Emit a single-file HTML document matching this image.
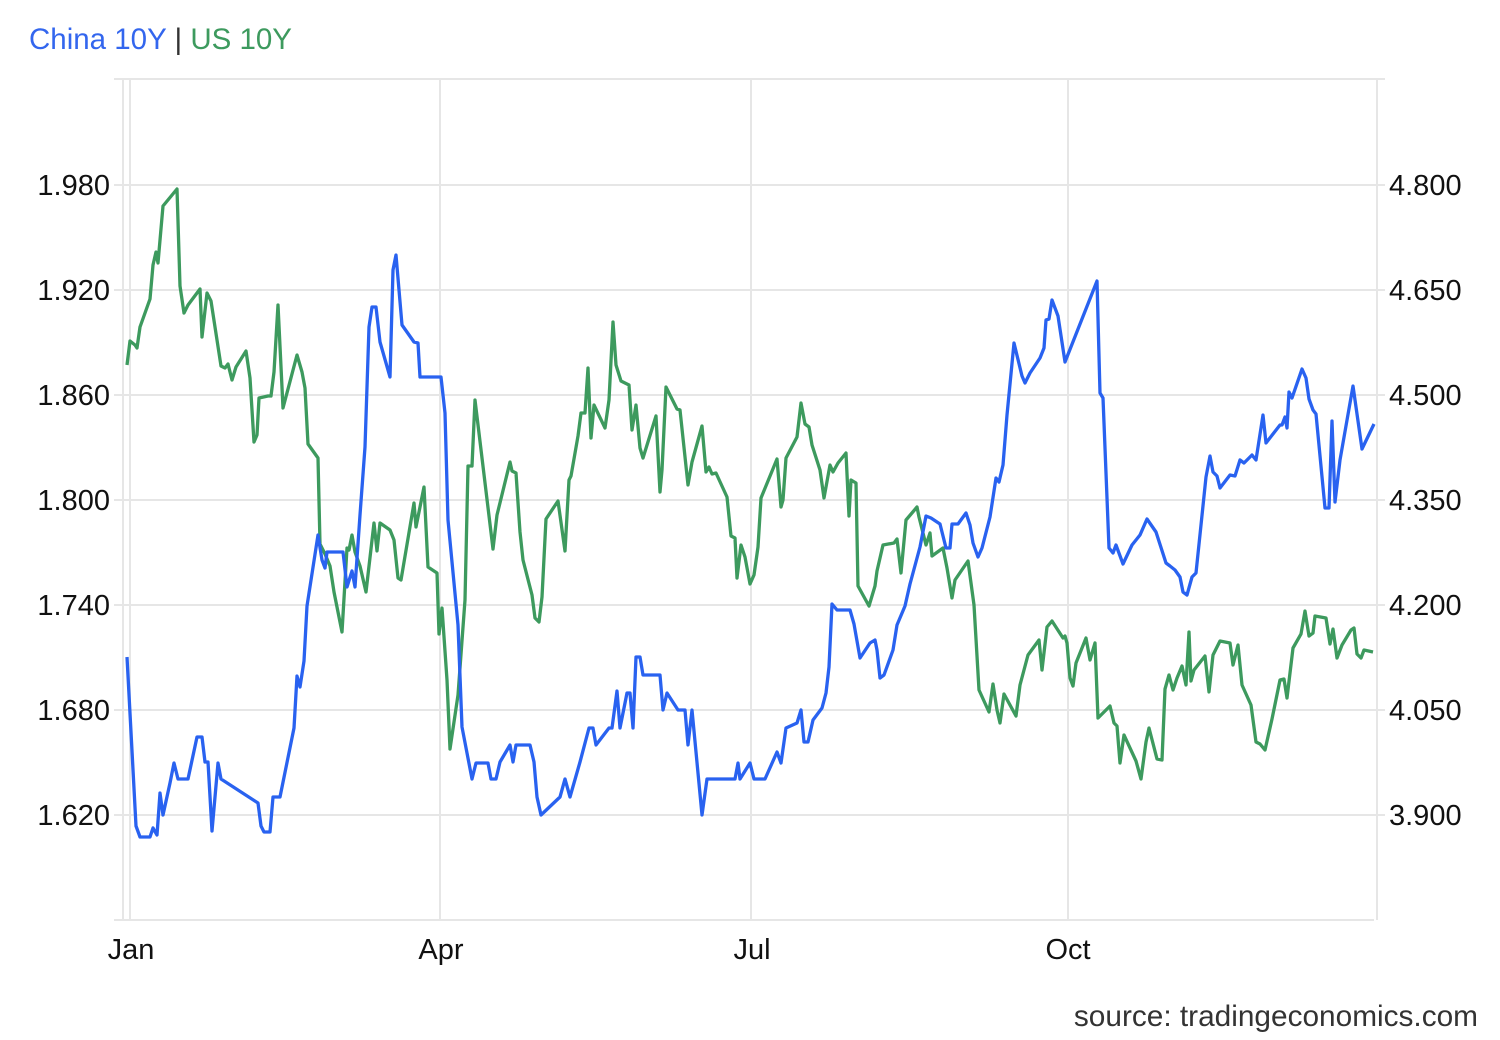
<!DOCTYPE html>
<html><head><style>html,body{margin:0;padding:0;background:#fff;}</style></head><body>
<svg width="1500" height="1040" xmlns="http://www.w3.org/2000/svg" style="display:block;font-family:'Liberation Sans',Arial,sans-serif">
<g stroke="#e6e6e6" stroke-width="2" fill="none">
<line x1="114" y1="79" x2="1385" y2="79"/>
<line x1="114" y1="185" x2="1385" y2="185"/>
<line x1="114" y1="290" x2="1385" y2="290"/>
<line x1="114" y1="395" x2="1385" y2="395"/>
<line x1="114" y1="500" x2="1385" y2="500"/>
<line x1="114" y1="605" x2="1385" y2="605"/>
<line x1="114" y1="710" x2="1385" y2="710"/>
<line x1="114" y1="815" x2="1385" y2="815"/>
<line x1="114" y1="920" x2="1374" y2="920"/>
<line x1="123" y1="79" x2="123" y2="920"/>
<line x1="130" y1="79" x2="130" y2="920"/>
<line x1="440" y1="79" x2="440" y2="920"/>
<line x1="751" y1="79" x2="751" y2="920"/>
<line x1="1068" y1="79" x2="1068" y2="920"/>
<line x1="1377" y1="79" x2="1377" y2="920"/>
</g>
<text x="29" y="49" font-size="29.5" fill="#3366ee">China 10Y <tspan fill="#333">|</tspan> <tspan fill="#3d9a5e">US 10Y</tspan></text>
<g font-size="29" fill="#111" text-anchor="end">
<text x="110" y="195">1.980</text><text x="110" y="300">1.920</text><text x="110" y="405">1.860</text><text x="110" y="510">1.800</text><text x="110" y="615">1.740</text><text x="110" y="720">1.680</text><text x="110" y="825">1.620</text>
</g>
<g font-size="29" fill="#111">
<text x="1389" y="195">4.800</text><text x="1389" y="300">4.650</text><text x="1389" y="405">4.500</text><text x="1389" y="510">4.350</text><text x="1389" y="615">4.200</text><text x="1389" y="720">4.050</text><text x="1389" y="825">3.900</text>
</g>
<g font-size="29" fill="#111" text-anchor="middle">
<text x="131" y="959">Jan</text><text x="441" y="959">Apr</text><text x="752" y="959">Jul</text><text x="1068" y="959">Oct</text>
</g>
<text x="1478" y="1026" font-size="29.8" fill="#333" text-anchor="end">source: tradingeconomics.com</text>
<polyline fill="none" stroke="#3d9a5e" stroke-width="3.3" stroke-linejoin="round" points="127,365 130,341 135,345 137,348 140,327 150,299 153,265 156,252 158,263 163,206 177,189 180,286 184,313 188,305 200,289 202,337 207,293 211,301 221,366 225,368 228,364 232,380 236,367 246,351 250,378 254,442 257,435 259,398 268,396 271,396 274,372 278,305 283,408 297,355 302,372 305,388 308,444 318,458 320,544 325,554 330,566 334,592 342,632 347,548 349,550 352,535 355,552 360,566 366,592 374,523 377,551 380,523 390,530 394,540 398,578 401,580 414,503 416,527 424,487 428,567 437,573 439,634 442,608 447,680 450,749 458,695 465,600 468,466 472,466 475,400 493,549 497,515 510,462 512,471 516,473 520,532 523,560 532,595 535,618 539,622 542,597 546,519 558,501 565,551 569,480 571,476 578,436 581,413 585,413 588,368 591,438 594,405 605,428 609,400 613,322 616,365 621,381 629,385 632,430 636,405 640,448 643,458 656,416 660,492 662,470 666,387 677,409 680,410 688,485 692,462 702,426 706,472 709,467 712,474 716,473 727,497 731,536 735,538 737,578 741,545 745,557 750,584 754,575 758,547 761,498 777,459 781,507 783,500 786,458 797,437 801,403 805,424 809,427 812,445 820,470 824,498 830,465 833,472 838,463 846,453 849,516 851,480 856,483 858,586 869,606 875,586 877,571 883,545 894,543 897,539 901,573 906,520 917,507 919,517 926,545 930,533 932,556 943,548 947,568 952,598 955,580 968,561 974,605 979,690 989,712 993,684 997,710 1000,723 1004,694 1016,716 1020,685 1028,655 1039,640 1042,670 1047,627 1052,621 1063,638 1065,636 1067,643 1070,678 1073,686 1076,663 1086,638 1090,660 1095,643 1098,718 1110,706 1114,723 1117,726 1120,763 1124,735 1136,761 1141,779 1146,742 1149,728 1157,759 1162,760 1165,689 1169,675 1173,690 1177,678 1182,666 1186,685 1189,632 1191,681 1194,670 1205,656 1209,692 1213,655 1220,641 1230,643 1233,665 1238,645 1242,685 1251,705 1256,742 1260,744 1265,750 1272,719 1280,680 1284,679 1287,698 1293,648 1301,634 1305,611 1309,636 1313,633 1315,616 1326,618 1330,644 1333,629 1337,658 1342,645 1351,630 1354,628 1357,654 1361,658 1364,650 1373,652"/>
<polyline fill="none" stroke="#2962f0" stroke-width="3.3" stroke-linejoin="round" points="127,657 136,826 140,837 150,837 153,828 157,835 160,793 163,815 170,783 174,763 178,779 188,779 197,737 202,737 205,762 208,762 212,831 218,763 221,779 258,803 261,826 264,832 270,832 273,797 280,797 294,728 297,676 300,687 304,661 307,606 318,535 322,560 325,568 327,552 343,552 347,587 352,571 355,587 360,515 365,447 369,327 372,307 376,307 380,342 390,377 393,270 396,255 402,325 414,342 418,343 420,377 441,377 445,413 448,520 458,625 462,727 472,779 476,763 488,763 491,779 496,779 500,762 510,745 513,762 516,745 530,745 534,762 537,797 541,815 560,797 565,779 570,797 580,762 589,728 593,728 596,745 609,728 612,728 617,691 620,728 627,693 630,693 633,728 636,657 640,657 643,675 660,675 663,710 667,693 678,710 685,710 688,745 692,710 702,815 707,779 735,779 738,763 740,779 750,763 754,779 760,779 765,779 777,752 781,763 786,728 797,723 801,710 804,742 808,742 813,720 822,708 826,693 829,667 832,604 837,610 850,610 854,624 860,658 870,643 875,640 877,650 880,678 884,675 893,650 897,625 905,606 910,584 920,547 926,516 931,518 940,524 946,548 950,548 952,524 958,524 966,513 970,525 973,543 978,557 982,548 990,517 996,478 999,482 1003,465 1007,415 1014,343 1022,376 1025,383 1030,373 1040,358 1044,348 1046,320 1049,319 1052,300 1058,316 1065,362 1097,281 1100,393 1103,398 1109,548 1113,553 1116,545 1123,564 1132,545 1140,535 1147,519 1156,532 1166,563 1170,566 1175,570 1180,577 1183,592 1187,595 1192,577 1196,573 1206,477 1210,456 1213,472 1217,476 1220,488 1230,475 1235,476 1240,460 1244,463 1252,455 1256,460 1263,415 1266,443 1280,425 1282,425 1285,417 1287,428 1289,392 1292,398 1302,369 1306,378 1309,399 1313,410 1316,414 1325,508 1329,508 1332,421 1335,502 1340,460 1353,386 1358,421 1362,449 1374,424"/>
</svg>
</body></html>
